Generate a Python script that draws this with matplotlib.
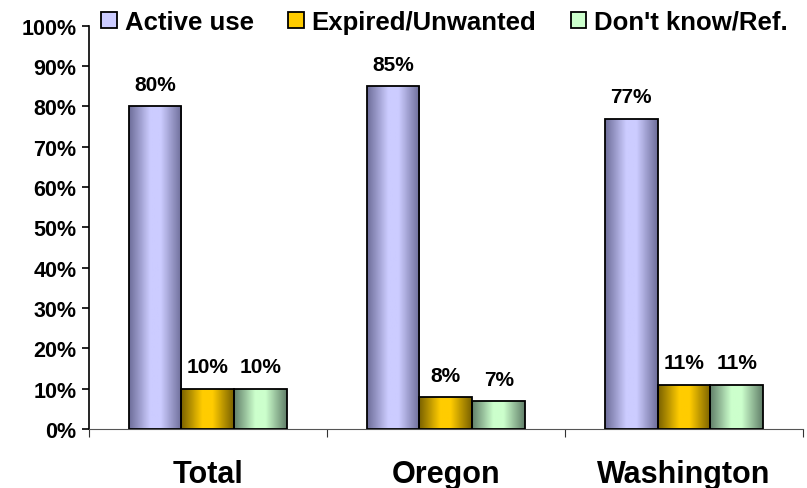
import matplotlib
matplotlib.use('Agg')
import matplotlib.pyplot as plt
import numpy as np
from matplotlib.colors import LinearSegmentedColormap
from matplotlib.patches import Patch
from matplotlib.ticker import PercentFormatter

categories = ['Total', 'Oregon', 'Washington']
series = ['Active use', 'Expired/Unwanted', "Don't know/Ref."]
active = [80, 85, 77]
expired = [10, 8, 11]
dontknow = [10, 7, 11]

# (edge colour, centre colour) per series
shades = [('#6e6e9a', '#ccccff'), ('#7a6200', '#ffcc00'), ('#62806a', '#ccffcc')]

plt.rcParams['font.family'] = ['Liberation Sans', 'DejaVu Sans']
plt.rcParams['font.weight'] = 'bold'

fig = plt.figure(figsize=(8.07, 4.89), dpi=100)
ax = fig.add_axes([0.110, 0.121, 0.885, 0.824])

x = np.arange(len(categories))
w = 0.222
grad = np.linspace(0, 1, 64).reshape(1, -1)

for i, (vals, (dark, light)) in enumerate(zip([active, expired, dontknow], shades)):
    cmap = LinearSegmentedColormap.from_list('g%d' % i, [(0, dark), (0.4, light), (0.6, light), (1, dark)])
    bars = ax.bar(x + (i - 1) * w, vals, w, facecolor='none', edgecolor='black', linewidth=1.3,
                  zorder=3)
    for b, v in zip(bars, vals):
        x0, y0 = b.get_x(), b.get_y()
        im = ax.imshow(grad, cmap=cmap, aspect='auto', extent=[x0, x0 + w, y0, y0 + b.get_height()],
                       zorder=2)
        im.set_clip_path(b)
        ax.text(b.get_x() + w / 2, v + 3, '%d%%' % v, ha='center', va='bottom', fontsize=15,
                fontweight='bold')

ax.set_xlim(-0.5, 2.5)
ax.set_ylim(0, 100)
ax.set_yticks(np.arange(0, 101, 10))
ax.yaxis.set_major_formatter(PercentFormatter(decimals=0))
ax.set_xticks([-0.5, 0.5, 1.5, 2.5])
ax.set_xticklabels([])
ax.set_xticks(x, minor=True)
ax.set_xticklabels(categories, minor=True, fontsize=22, fontweight='bold')
ax.tick_params(axis='x', which='minor', length=0, pad=22)
ax.tick_params(axis='x', which='major', direction='out', length=6, color='#333333')
ax.tick_params(axis='y', labelsize=15.5, length=5, width=1.2, pad=4)
for lab in ax.get_yticklabels():
    lab.set_fontweight('bold')
ax.spines['top'].set_visible(False)
ax.spines['right'].set_visible(False)
ax.spines['left'].set_linewidth(1.2)
ax.spines['bottom'].set_color('#555555')

handles = [Patch(facecolor=light, edgecolor='black', linewidth=1.3) for dark, light in shades]
leg = fig.legend(handles, series, loc='upper left', bbox_to_anchor=(0.097, 1.025), ncol=3, frameon=False,
                 handlelength=0.6, handleheight=0.6, handletextpad=0.3, columnspacing=1.35,
                 borderpad=0.4, prop={'weight': 'bold', 'size': 18.5})

fig.savefig('out.png', dpi=100)
